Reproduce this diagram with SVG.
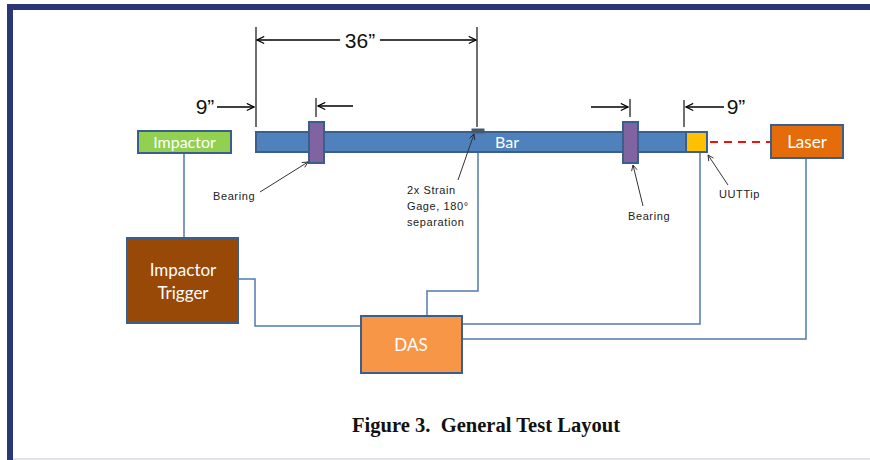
<svg xmlns="http://www.w3.org/2000/svg" width="870" height="460" viewBox="0 0 870 460">
<defs>
<marker id="arr" viewBox="0 0 10 10" refX="9" refY="5" markerWidth="9" markerHeight="9" orient="auto-start-reverse" markerUnits="userSpaceOnUse">
<path d="M1,1 L9,5 L1,9" fill="none" stroke="#000" stroke-width="1.3"/>
</marker>
<marker id="arrs" viewBox="0 0 10 10" refX="9" refY="5" markerWidth="7" markerHeight="7" orient="auto" markerUnits="userSpaceOnUse">
<path d="M1,1 L9,5 L1,9" fill="none" stroke="#222" stroke-width="1.2"/>
</marker>
</defs>
<style>
.box{stroke:#3A5F8C;stroke-width:2}
.wt{fill:#fff;font-family:Lato,"Open Sans",sans-serif;text-anchor:middle}
.dim{stroke:#000;stroke-width:1.3;fill:none}
.tick{stroke:#222;stroke-width:1.3}
.lbl{font-family:"Liberation Sans",Arial,sans-serif;font-size:11px;letter-spacing:0.6px;fill:#222}
.dt{font-family:"Liberation Sans",Arial,sans-serif;font-size:21px;fill:#111}
.lead{stroke:#333;stroke-width:1;fill:none}
.wire{stroke:#5279AF;stroke-width:1.5;fill:none}
</style>
<rect x="0" y="0" width="870" height="460" fill="#fff"/>
<rect x="7" y="4" width="863" height="6" fill="#2B3674"/>
<rect x="7" y="4" width="6" height="456" fill="#2B3674"/>
<line x1="13" y1="459" x2="870" y2="459" stroke="#D8D8E0" stroke-width="1.5"/>

<g id="connectors">
<path class="wire" d="M184,153 V238"/>
<path class="wire" d="M238,279 H255 V326 H361"/>
<path class="wire" d="M478,152 V291 H427 V316"/>
<path class="wire" d="M462,324 H700 V152"/>
<path class="wire" d="M462,339 H806 V158"/>
<line x1="710" y1="142" x2="771" y2="142" stroke="#F01010" stroke-width="2" stroke-dasharray="8,6"/>
</g>

<g id="dimensions">
<line class="tick" x1="256" y1="27" x2="256" y2="127"/>
<line class="tick" x1="477" y1="27" x2="477" y2="127"/>
<line class="dim" x1="340" y1="40" x2="257" y2="40" marker-end="url(#arr)"/>
<line class="dim" x1="380" y1="40" x2="476" y2="40" marker-end="url(#arr)"/>
<text class="dt" x="360" y="48" text-anchor="middle">36”</text>
<text class="dt" x="205" y="114" text-anchor="middle">9”</text>
<line class="dim" x1="217" y1="107" x2="254" y2="107" marker-end="url(#arr)"/>
<line class="tick" x1="316" y1="98" x2="316" y2="117"/>
<line class="dim" x1="353" y1="106" x2="318" y2="106" marker-end="url(#arr)"/>
<line class="tick" x1="630" y1="99" x2="630" y2="117"/>
<line class="dim" x1="591" y1="107" x2="628" y2="107" marker-end="url(#arr)"/>
<line class="tick" x1="684" y1="100" x2="684" y2="127"/>
<line class="dim" x1="724" y1="107" x2="686" y2="107" marker-end="url(#arr)"/>
<text class="dt" x="736" y="114" text-anchor="middle">9”</text>
</g>

<g id="impactor">
<rect class="box" x="138" y="131" width="93" height="22" fill="#92D050"/>
<text class="wt" x="184.5" y="148" font-size="16">Impactor</text>
</g>

<g id="bar">
<rect class="box" x="256" y="132" width="430" height="20" fill="#4F81BD"/>
<text class="wt" x="507" y="148" font-size="16">Bar</text>
</g>

<g id="strain-gage">
<rect x="472" y="129" width="12" height="4" fill="#555" stroke="#3A5F8C" stroke-width="1"/>
</g>

<g id="bearing1">
<rect class="box" x="309" y="122" width="15" height="41" fill="#8064A2"/>
</g>

<g id="bearing2">
<rect class="box" x="623" y="122" width="15" height="41" fill="#8064A2"/>
</g>

<g id="uut-tip">
<rect class="box" x="686" y="132" width="21" height="20" fill="#FFC000"/>
</g>

<g id="laser">
<rect class="box" x="771" y="125" width="72" height="33" fill="#E46C0A"/>
<text class="wt" x="807" y="148" font-size="17">Laser</text>
</g>

<g id="impactor-trigger">
<rect class="box" x="127" y="238" width="111" height="85" fill="#984807"/>
<text class="wt" x="183" y="276" font-size="17">Impactor</text>
<text class="wt" x="183" y="299" font-size="17">Trigger</text>
</g>

<g id="das">
<rect class="box" x="361" y="316" width="101" height="57" fill="#F79646"/>
<text class="wt" x="411" y="351" font-size="17">DAS</text>
</g>

<g id="labels">
<text class="lbl" x="213" y="200">Bearing</text>
<line class="lead" x1="260" y1="192" x2="308" y2="162" marker-end="url(#arrs)"/>
<text class="lbl" x="407" y="194">2x Strain</text>
<text class="lbl" x="407" y="210">Gage, 180°</text>
<text class="lbl" x="407" y="226">separation</text>
<line class="lead" x1="458" y1="180" x2="474" y2="134" marker-end="url(#arrs)"/>
<text class="lbl" x="628" y="220">Bearing</text>
<line class="lead" x1="643" y1="206" x2="633" y2="165" marker-end="url(#arrs)"/>
<text class="lbl" x="719" y="198">UUTTip</text>
<line class="lead" x1="728" y1="185" x2="708" y2="155" marker-end="url(#arrs)"/>
</g>

<text x="352" y="432" xml:space="preserve" textLength="268" lengthAdjust="spacingAndGlyphs" font-family="'Liberation Serif','Times New Roman',serif" font-weight="bold" font-size="20" fill="#111">Figure 3.  General Test Layout</text>
</svg>
